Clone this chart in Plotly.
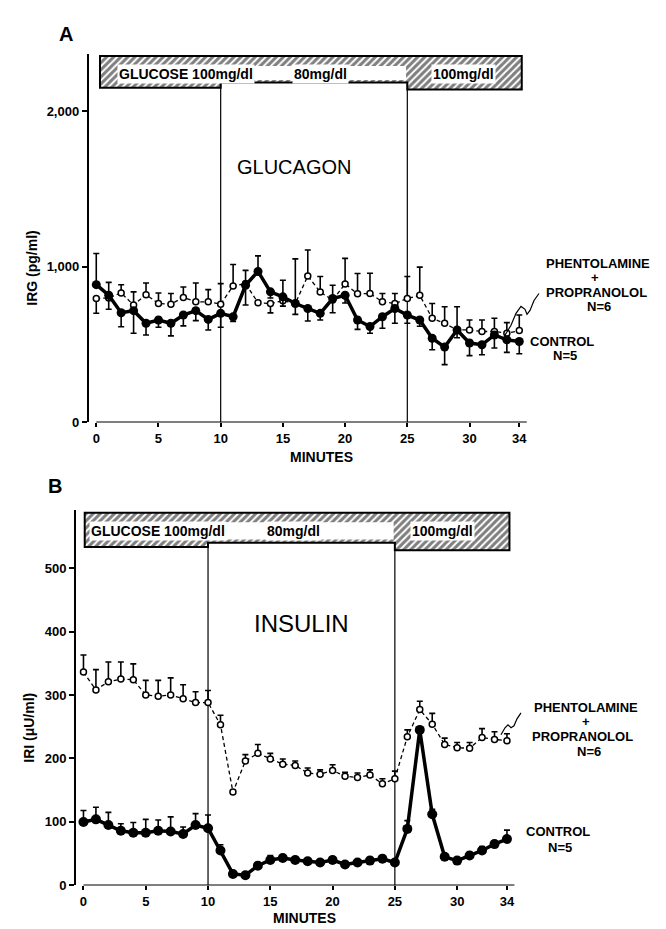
import plotly.graph_objects as go

# ---------------- data ----------------
minutes = list(range(0, 35))

# Panel A: glucagon (pg/ml)
glucagon_control = [885, 817, 705, 718, 637, 658, 637, 690, 718, 662, 701, 679, 881, 970, 839, 807, 764, 732,
                    701, 796, 817, 658, 616, 679, 732, 690, 658, 541, 484, 594, 510, 499, 562, 531, 520]
glucagon_control_up = [200, 0, 0, 0, 0, 0, 0, 0, 0, 0, 0, 0, 0, 100, 0, 0, 0, 0,
                       0, 0, 0, 0, 0, 0, 0, 0, 0, 0, 0, 0, 0, 0, 0, 0, 0]
glucagon_control_down = [0, 90, 90, 145, 75, 47, 81, 70, 64, 68, 90, 30, 127, 0, 40, 60, 70, 80,
                         43, 91, 50, 60, 43, 74, 95, 53, 40, 74, 113, 50, 81, 64, 84, 81, 79]
glucagon_pp = [796, 800, 832, 754, 821, 764, 760, 803, 775, 775, 760, 877, 892, 769, 764, 782, 764, 941,
               838, 786, 890, 826, 828, 775, 764, 796, 817, 669, 637, 594, 594, 584, 584, 573, 590]
glucagon_pp_up = [0, 100, 53, 85, 75, 68, 68, 67, 121, 78, 132, 138, 85, 0, 0, 131, 287, 167,
                  100, 95, 164, 131, 130, 53, 64, 142, 181, 95, 106, 149, 64, 74, 85, 68, 100]
glucagon_pp_down = [95, 0, 0, 0, 0, 0, 0, 0, 0, 0, 0, 0, 0, 0, 60, 0, 0, 0,
                    0, 0, 0, 0, 0, 0, 0, 0, 0, 0, 0, 0, 0, 0, 0, 0, 0]

# Panel B: insulin (uU/ml)
insulin_control = [100, 104, 95, 86, 83, 83, 86, 85, 81, 95, 90, 55, 18, 16, 31, 40, 43, 40,
                   38, 36, 40, 33, 36, 39, 42, 36, 89, 245, 112, 45, 39, 47, 55, 65, 73]
insulin_control_up = [18, 19, 20, 11, 16, 21, 17, 23, 11, 18, 21, 9, 3, 3, 5, 7, 5, 5,
                      4, 4, 5, 4, 4, 5, 5, 4, 13, 0, 8, 3, 3, 5, 6, 5, 14]
insulin_pp = [336, 308, 321, 325, 324, 300, 298, 300, 294, 288, 288, 253, 147, 196, 208, 199, 191, 189,
              177, 175, 181, 172, 170, 174, 160, 168, 234, 277, 254, 222, 217, 216, 233, 230, 228]
insulin_pp_up = [27, 32, 31, 27, 25, 23, 25, 27, 22, 17, 19, 15, 3, 10, 14, 9, 8, 7,
                 8, 7, 9, 6, 7, 8, 8, 12, 11, 13, 17, 10, 8, 9, 14, 12, 11]

x_ticks = [0, 5, 10, 15, 20, 25, 30, 34]
glucose_change_minutes = [10, 25]
glucose_labels = ["GLUCOSE 100mg/dl", "80mg/dl", "100mg/dl"]

# ---------------- helpers ----------------
W, H = 666, 929
def PX(x):
    return x / W
def PY(y):
    return 1 - y / H

FONT = "Liberation Sans"

fig = go.Figure()

bandA = dict(x0=0.3, x1=34.2, top=2355, bottoms=[2150, 2185, 2140], strip=(2200, 2290),
             text_y=2242, text_x=[7.2, 18.0, 29.5])
bandB = dict(x0=0.1, x1=34.2, top=587, bottoms=[533, 540, 528], strip=(545, 572),
             text_y=558, text_x=[6.0, 16.9, 28.8])

def add_band(band, xa, ya):
    edges = [band["x0"]] + glucose_change_minutes + [band["x1"]]
    centers = [(edges[i] + edges[i + 1]) / 2 for i in range(3)]
    widths = [edges[i + 1] - edges[i] for i in range(3)]
    heights = [band["top"] - b for b in band["bottoms"]]
    fig.add_trace(go.Bar(x=centers, y=heights, base=band["bottoms"], width=widths,
                         xaxis=xa, yaxis=ya, hoverinfo="skip", showlegend=False,
                         marker=dict(color="white", line=dict(width=0),
                                     pattern=dict(shape="/", fgcolor="black", bgcolor="white",
                                                  size=5, solidity=0.6))))
    fig.add_shape(type="rect", xref=xa, yref=ya, x0=edges[1] + 0.1, x1=edges[2] - 0.1,
                  y0=band["strip"][0], y1=band["strip"][1], fillcolor="white", line=dict(width=0),
                  layer="above")
    b = band["bottoms"]
    path = (f"M {edges[0]},{b[0]} L {edges[1]},{b[0]} L {edges[1]},{b[1]} L {edges[2]},{b[1]} "
            f"L {edges[2]},{b[2]} L {edges[3]},{b[2]} L {edges[3]},{band['top']} L {edges[0]},{band['top']} Z")
    fig.add_shape(type="path", xref=xa, yref=ya, path=path, line=dict(color="black", width=2),
                  layer="above")
    for lbl, tx in zip(glucose_labels, band["text_x"]):
        fig.add_annotation(x=tx, y=band["text_y"], xref=xa, yref=ya, text=lbl, showarrow=False,
                           font=dict(family=FONT, size=14, color="black", weight="bold"),
                           bgcolor="white", borderpad=1)
    for m in glucose_change_minutes:
        fig.add_shape(type="line", xref=xa, yref=ya, x0=m, x1=m, y0=0, y1=b[1],
                      line=dict(color="black", width=1.2), layer="below")
    fig.add_shape(type="line", xref=xa, yref=ya, x0=0, x1=34.6, y0=0, y1=0,
                  line=dict(color="black", width=2))

add_band(bandA, "x", "y")
add_band(bandB, "x2", "y2")

def err(up, down=None, w=3):
    d = dict(type="data", symmetric=False, array=up, color="black", thickness=1.6, width=w)
    d["arrayminus"] = down if down is not None else [0] * len(up)
    return d

open_marker = dict(symbol="circle", size=6, color="white", line=dict(color="black", width=1.5))
filled_marker = dict(symbol="circle", size=9, color="black")

fig.add_trace(go.Scatter(x=minutes, y=glucagon_pp, mode="lines+markers", xaxis="x", yaxis="y",
                         line=dict(color="black", width=1.3, dash="4px,3px"), marker=open_marker,
                         error_y=err(glucagon_pp_up, glucagon_pp_down), showlegend=False))
fig.add_trace(go.Scatter(x=minutes, y=glucagon_control, mode="lines+markers", xaxis="x", yaxis="y",
                         line=dict(color="black", width=3.5), marker=filled_marker,
                         error_y=err(glucagon_control_up, glucagon_control_down), showlegend=False))
fig.add_trace(go.Scatter(x=minutes, y=insulin_pp, mode="lines+markers", xaxis="x2", yaxis="y2",
                         line=dict(color="black", width=1.3, dash="4px,3px"), marker=open_marker,
                         error_y=err(insulin_pp_up), showlegend=False))
fig.add_trace(go.Scatter(x=minutes, y=insulin_control, mode="lines+markers", xaxis="x2", yaxis="y2",
                         line=dict(color="black", width=3.5), marker=dict(symbol="circle", size=10, color="black"),
                         error_y=err(insulin_control_up), showlegend=False))

tickfont = dict(family=FONT, size=13, color="black", weight="bold")
xcommon = dict(range=[-0.6, 35.4], showgrid=False, zeroline=False, showline=False, ticks="outside",
               ticklen=4, tickwidth=1.5, tickcolor="black", tickvals=x_ticks, tickfont=tickfont)
ycommon = dict(showgrid=False, zeroline=False, showline=True, linecolor="black", linewidth=2,
               ticks="outside", ticklen=5, tickwidth=1.5, tickcolor="black", tickfont=tickfont)

fig.update_layout(
    width=W, height=H, margin=dict(l=0, r=0, t=0, b=0),
    paper_bgcolor="white", plot_bgcolor="white", showlegend=False, bargap=0,
    font=dict(family=FONT, color="black"),
    xaxis=dict(domain=[PX(80.8), PX(528.7)], anchor="y", **xcommon),
    yaxis=dict(domain=[PY(418), PY(46)], anchor="x", range=[0, 2370],
               tickvals=[0, 1000, 2000], ticktext=["0", "1,000", "2,000"], **ycommon),
    xaxis2=dict(domain=[PX(68.0), PX(516.4)], anchor="y2", **xcommon),
    yaxis2=dict(domain=[PY(885), PY(506)], anchor="x2", range=[0, 592],
                tickvals=[0, 100, 200, 300, 400, 500], **ycommon),
)

def txt(x, y, s, size=15, weight="bold", angle=0):
    fig.add_annotation(x=PX(x), y=PY(y), xref="paper", yref="paper", text=s, showarrow=False,
                       textangle=angle, xanchor="center", yanchor="middle",
                       font=dict(family=FONT, size=size, color="black", weight=weight))

txt(58, 26, "A", size=20)
txt(47, 482, "B", size=20)
txt(286, 160, "GLUCAGON", size=20, weight="normal")
txt(293, 621, "INSULIN", size=24, weight="normal")
txt(24, 263, "IRG (pg/ml)", size=14, angle=-90)
txt(21, 726, "IRI (μU/ml)", size=14, angle=-90)
txt(313, 453, "MINUTES", size=14)
txt(296, 918, "MINUTES", size=14)

for (x, y, s) in [(590, 258, "PHENTOLAMINE"), (587, 272, "+"), (588, 287, "PROPRANOLOL"), (591, 301, "N=6"),
                  (554, 336, "CONTROL"), (557, 351, "N=5"),
                  (578, 706, "PHENTOLAMINE"), (578, 720, "+"), (574, 735, "PROPRANOLOL"), (581, 750, "N=6"),
                  (550, 831, "CONTROL"), (552, 847, "N=5")]:
    txt(x, y, s, size=13)

def squiggle(pts):
    p = f"M {PX(pts[0][0])},{PY(pts[0][1])}"
    for (x, y) in pts[1:]:
        p += f" L {PX(x)},{PY(y)}"
    return p

fig.add_shape(type="path", xref="paper", yref="paper",
              path=squiggle([(497, 330), (503, 320), (508, 308), (513, 301), (517, 304), (519, 309),
                             (522, 305), (526, 295), (531, 288)]),
              line=dict(color="black", width=1.2))
fig.add_shape(type="path", xref="paper", yref="paper",
              path=squiggle([(493, 733), (497, 726), (500, 723), (503, 726), (506, 724), (509, 717),
                             (513, 711)]),
              line=dict(color="black", width=1.2))

fig.write_html("out.html")
